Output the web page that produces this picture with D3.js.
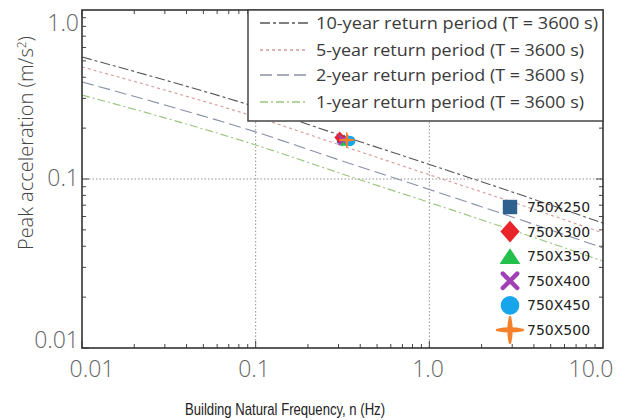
<!DOCTYPE html>
<html><head><meta charset="utf-8">
<script src="https://cdn.jsdelivr.net/npm/d3@7"></script>
<style>body{margin:0;background:#fff}svg{display:block}</style>
</head><body>
<script>
// ---- data ----
const freqs = [0.01, 0.03, 0.1, 0.3, 1, 3, 10];
const seriesNames = ["10-year return period (T = 3600 s)","5-year return period (T = 3600 s)","2-year return period (T = 3600 s)","1-year return period (T = 3600 s)"];
const acc10 = [0.527, 0.385, 0.267, 0.183, 0.122, 0.0838, 0.0549];
const acc5  = [0.460, 0.336, 0.233, 0.160, 0.106, 0.0731, 0.0479];
const acc2  = [0.375, 0.274, 0.190, 0.130, 0.0867, 0.0596, 0.0391];
const acc1  = [0.314, 0.230, 0.159, 0.109, 0.0726, 0.0499, 0.0327];
const buildings = ["750X250","750X300","750X350","750X400","750X450","750X500"];
const bFreq = [0.31, 0.305, 0.33, 0.32, 0.35, 0.335];
const bAcc  = [0.172, 0.176, 0.167, 0.170, 0.168, 0.170];
const xTicks = [0.01, 0.1, 1, 10];
const xTickLabels = ["0.01","0.1","1.0","10.0"];
const yTicks = [0.01, 0.1, 1];
const yTickLabels = ["0.01","0.1","1.0"];

const W=626,H=420;
const L=82,R=603,T=10,B=348;
const svg=d3.select("body").append("svg").attr("width",W).attr("height",H);
const x=d3.scaleLog().domain([0.01,10]).range([L,R]);
const y=d3.scaleLog().domain([0.01,1]).range([B,T]);

// grid
svg.append("g").selectAll("line").data([0.1,1]).join("line")
 .attr("x1",d=>x(d)).attr("x2",d=>x(d)).attr("y1",T).attr("y2",B)
 .attr("stroke","#777").attr("stroke-width",0.8).attr("stroke-dasharray","1.5,2");
svg.append("g").selectAll("line").data([0.1]).join("line")
 .attr("y1",d=>y(d)).attr("y2",d=>y(d)).attr("x1",L).attr("x2",R)
 .attr("stroke","#777").attr("stroke-width",0.8).attr("stroke-dasharray","1.5,2");

// minor ticks
const minorX=[];for(let e=-2;e<1;e++)for(let m=1;m<10;m++)minorX.push(m*Math.pow(10,e));
const minorY=[];for(let e=-2;e<0;e++)for(let m=1;m<10;m++)minorY.push(m*Math.pow(10,e));
const tk=svg.append("g").attr("stroke","#444").attr("stroke-width",1);
minorX.forEach(v=>{const len=(Math.abs(Math.log10(v)%1)<1e-9)?7:4;
 tk.append("line").attr("x1",x(v)).attr("x2",x(v)).attr("y1",B).attr("y2",B-len);
 tk.append("line").attr("x1",x(v)).attr("x2",x(v)).attr("y1",T).attr("y2",T+len);});
minorY.forEach(v=>{const len=(Math.abs(Math.log10(v)%1)<1e-9)?7:4;
 tk.append("line").attr("y1",y(v)).attr("y2",y(v)).attr("x1",L).attr("x2",L+len);
 tk.append("line").attr("y1",y(v)).attr("y2",y(v)).attr("x1",R).attr("x2",R-len);});

// lines
const allSeries=[acc10,acc5,acc2,acc1];
const styles=[{c:"#555",d:"10,3,3,3"},{c:"#d49a9a",d:"3,3"},{c:"#8890a4",d:"12,5"},{c:"#9cc47c",d:"8,3,2,3"}];
const line=d3.line().x(d=>x(d[0])).y(d=>y(d[1])).curve(d3.curveMonotoneX);
allSeries.forEach((s,i)=>{
 svg.append("path").datum(freqs.map((f,j)=>[f,s[j]])).attr("d",line)
  .attr("fill","none").attr("stroke",styles[i].c).attr("stroke-width",1.1).attr("stroke-dasharray",styles[i].d);
});

// frame
svg.append("rect").attr("x",L).attr("y",T).attr("width",R-L).attr("height",B-T)
 .attr("fill","none").attr("stroke","#333").attr("stroke-width",1.6);

// markers
const mColors=["#2f6190","#e8232a","#23c14b","#a040b4","#17a5ec","#f5802a"];
function drawMarker(g,i,s){
 const c=mColors[i];
 if(i===0) g.append("rect").attr("x",-s*0.45).attr("y",-s*0.45).attr("width",s*0.9).attr("height",s*0.9).attr("fill",c);
 else if(i===1) g.append("path").attr("d",`M0,${-s*0.68}L${s*0.6},0L0,${s*0.68}L${-s*0.6},0Z`).attr("fill",c);
 else if(i===2) g.append("path").attr("d",`M0,${-s*0.5}L${s*0.65},${s*0.48}L${-s*0.65},${s*0.48}Z`).attr("fill",c);
 else if(i===3) g.append("path").attr("d",`M${-s*0.45},${-s*0.45}L${s*0.45},${s*0.45}M${s*0.45},${-s*0.45}L${-s*0.45},${s*0.45}`).attr("stroke",c).attr("stroke-width",s*0.28).attr("stroke-linecap","round");
 else if(i===4) g.append("circle").attr("r",s*0.58).attr("fill",c);
 else { const a=s*0.8,w=s*0.18;
  g.append("path").attr("d",`M${-a},0Q0,${-w} ${a},0Q0,${w} ${-a},0Z M0,${-a}Q${w},0 0,${a}Q${-w},0 0,${-a}Z`).attr("fill",c).attr("stroke",c).attr("stroke-width",s*0.16).attr("stroke-linejoin","round");}
}
buildings.forEach((b,i)=>{const g=svg.append("g").attr("transform",`translate(${x(bFreq[i])},${y(bAcc[i])})`);drawMarker(g,i,9);});

// marker legend
buildings.forEach((b,i)=>{
 const yy=207+i*24.6;
 const g=svg.append("g").attr("transform",`translate(510,${yy})`);drawMarker(g,i,16);
 svg.append("text").attr("x",527).attr("y",yy+5).text(b).attr("font-family","DejaVu Sans").attr("font-size",14).attr("fill","#222");
});

// line legend
const lg=svg.append("g");
lg.append("rect").attr("x",248).attr("y",T).attr("width",R-248).attr("height",111).attr("fill","#fff").attr("stroke","#444").attr("stroke-width",1.5);
[23,50,75,102].forEach((yy,i)=>{
 lg.append("line").attr("x1",260).attr("x2",308).attr("y1",yy).attr("y2",yy).attr("stroke",styles[i].c).attr("stroke-width",1.3).attr("stroke-dasharray",styles[i].d);
 lg.append("text").attr("x",316).attr("y",yy+6).text(seriesNames[i]).attr("font-family","Open Sans").attr("font-size",16.5).attr("fill","#3a3a3a").attr("textLength",i===0?282:268).attr("lengthAdjust","spacingAndGlyphs");
});

// tick labels
const xl=[92,254,428,591];
svg.append("g").selectAll("text").data(xTicks).join("text")
 .attr("x",(d,i)=>xl[i]).attr("y",377).attr("text-anchor","middle").text((d,i)=>xTickLabels[i])
 .attr("font-family","Open Sans").attr("font-weight",300).attr("font-size",23).attr("fill","#666");
const yl=[340,178,23];
svg.append("g").selectAll("text").data(yTicks).join("text")
 .attr("x",79).attr("y",(d,i)=>yl[i]+8).attr("text-anchor","end").text((d,i)=>yTickLabels[i])
 .attr("font-family","Open Sans").attr("font-weight",300).attr("font-size",23).attr("fill","#666");

// axis titles
svg.append("text").attr("x",285).attr("y",415).attr("text-anchor","middle").text("Building Natural Frequency, n (Hz)")
 .attr("font-family","Liberation Sans").attr("font-size",17).attr("fill","#222").attr("textLength",200).attr("lengthAdjust","spacingAndGlyphs");
const yt=svg.append("text").attr("transform","translate(33,143) rotate(-90)").attr("text-anchor","middle")
 .attr("font-family","Open Sans").attr("font-weight",300).attr("font-size",20).attr("fill","#444");
yt.append("tspan").text("Peak acceleration (m/s");
yt.append("tspan").text("2").attr("font-size",12).attr("dy",-7);
yt.append("tspan").text(")").attr("dy",7);
</script>
</body></html>
